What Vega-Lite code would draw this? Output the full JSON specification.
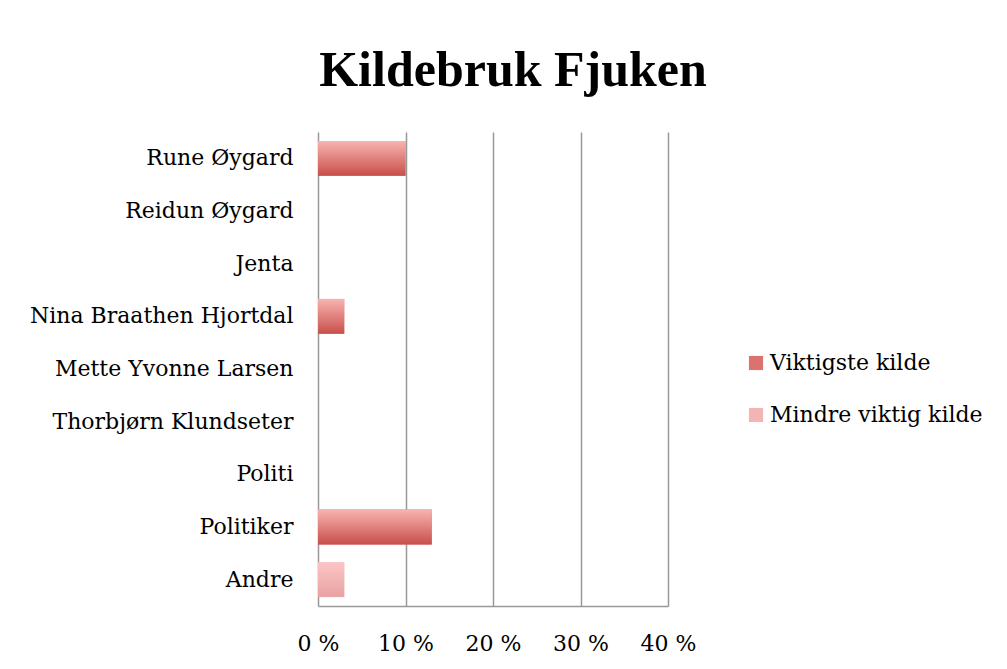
{
  "$schema": "https://vega.github.io/schema/vega-lite/v6.json",
  "width": 350,
  "height": 474,
  "autosize": "none",
  "padding": {"left": 318, "top": 132, "right": 339, "bottom": 63},
  "background": "white",
  "title": {
    "text": "Kildebruk Fjuken",
    "font": "Liberation Serif",
    "fontSize": 50,
    "fontWeight": "bold",
    "color": "black",
    "anchor": "middle",
    "frame": "group",
    "dx": 20,
    "offset": 36
  },
  "data": {
    "values": [
      {"kilde": "Rune Øygard", "serie": "Viktigste kilde", "andel": 10},
      {"kilde": "Reidun Øygard", "serie": "Viktigste kilde", "andel": 0},
      {"kilde": "Jenta", "serie": "Viktigste kilde", "andel": 0},
      {"kilde": "Nina Braathen Hjortdal", "serie": "Viktigste kilde", "andel": 3},
      {"kilde": "Mette Yvonne Larsen", "serie": "Viktigste kilde", "andel": 0},
      {"kilde": "Thorbjørn Klundseter", "serie": "Viktigste kilde", "andel": 0},
      {"kilde": "Politi", "serie": "Viktigste kilde", "andel": 0},
      {"kilde": "Politiker", "serie": "Viktigste kilde", "andel": 13},
      {"kilde": "Andre", "serie": "Viktigste kilde", "andel": 0},
      {"kilde": "Rune Øygard", "serie": "Mindre viktig kilde", "andel": 0},
      {"kilde": "Reidun Øygard", "serie": "Mindre viktig kilde", "andel": 0},
      {"kilde": "Jenta", "serie": "Mindre viktig kilde", "andel": 0},
      {"kilde": "Nina Braathen Hjortdal", "serie": "Mindre viktig kilde", "andel": 0},
      {"kilde": "Mette Yvonne Larsen", "serie": "Mindre viktig kilde", "andel": 0},
      {"kilde": "Thorbjørn Klundseter", "serie": "Mindre viktig kilde", "andel": 0},
      {"kilde": "Politi", "serie": "Mindre viktig kilde", "andel": 0},
      {"kilde": "Politiker", "serie": "Mindre viktig kilde", "andel": 0},
      {"kilde": "Andre", "serie": "Mindre viktig kilde", "andel": 3}
    ]
  },
  "encoding": {
    "y": {
      "field": "kilde",
      "type": "nominal",
      "sort": ["Rune Øygard", "Reidun Øygard", "Jenta", "Nina Braathen Hjortdal", "Mette Yvonne Larsen", "Thorbjørn Klundseter", "Politi", "Politiker", "Andre"],
      "scale": {"paddingInner": 0.34, "paddingOuter": 0.17},
      "axis": {
        "title": null,
        "domain": false,
        "ticks": false,
        "labelFont": "DejaVu Serif",
        "labelFontSize": 22,
        "labelColor": "black",
        "labelPadding": 25,
        "labelLimit": 400
      }
    },
    "x": {
      "field": "andel",
      "type": "quantitative",
      "stack": null,
      "scale": {"domain": [0, 40]},
      "axis": {
        "title": null,
        "values": [0, 10, 20, 30, 40],
        "labelExpr": "datum.value + ' %'",
        "labelFlush": false,
        "labelBound": false,
        "labelOverlap": false,
        "grid": true,
        "gridColor": "#999999",
        "gridWidth": 1.5,
        "domain": true,
        "domainColor": "#999999",
        "domainWidth": 1.5,
        "ticks": false,
        "labelFont": "DejaVu Serif",
        "labelFontSize": 22,
        "labelColor": "black",
        "labelPadding": 27
      }
    }
  },
  "layer": [
    {
      "mark": {"type": "bar", "opacity": 1},
      "encoding": {
        "color": {
          "field": "serie",
          "type": "nominal",
          "scale": {"domain": ["Viktigste kilde", "Mindre viktig kilde"], "range": ["#dc726e", "#f3b4b4"]},
          "legend": {
            "title": null,
            "orient": "none",
            "legendX": 427,
            "legendY": 220,
            "symbolType": "square",
            "symbolSize": 200,
            "symbolStrokeWidth": 0,
            "labelFont": "DejaVu Serif",
            "labelFontSize": 22,
            "labelColor": "black",
            "labelOffset": 3,
            "labelLimit": 400,
            "rowPadding": 30
          }
        }
      }
    },
    {
      "transform": [{"filter": "datum.serie === 'Viktigste kilde'"}],
      "mark": {
        "type": "bar",
        "fill": {"gradient": "linear", "x1": 0, "y1": 0, "x2": 0, "y2": 1, "stops": [{"offset": 0, "color": "#f8b4b1"}, {"offset": 1, "color": "#c84f4a"}]}
      }
    },
    {
      "transform": [{"filter": "datum.serie === 'Mindre viktig kilde'"}],
      "mark": {
        "type": "bar",
        "fill": {"gradient": "linear", "x1": 0, "y1": 0, "x2": 0, "y2": 1, "stops": [{"offset": 0, "color": "#fcc6c6"}, {"offset": 1, "color": "#e8a2a2"}]}
      }
    }
  ],
  "config": {"view": {"stroke": null}}
}
